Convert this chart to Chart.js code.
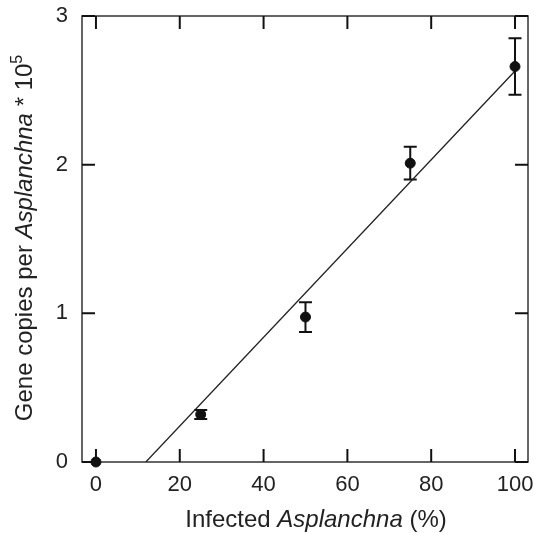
<!DOCTYPE html>
<html lang="en">
  <head>
    <meta charset="UTF-8" />
    <title>Gene copies per Asplanchna</title>
    <script src="https://cdn.jsdelivr.net/npm/chart.js"></script>
    <style>
      html, body { margin: 0; padding: 0; background: #fff; }
      #wrap { width: 534px; height: 533px; }
    </style>
  </head>
  <body>
    <div id="wrap"><canvas id="chart" width="534" height="533"></canvas></div>
    <script>
      // values
      const infected = [0, 25, 50, 75, 100];
      const geneCopies = [0, 0.32, 0.975, 2.01, 2.66];
      const geneErr = [0, 0.03, 0.1, 0.11, 0.19];
      const fitX = [11.9, 100];
      const fitY = [0, 2.63];
      const xTicks = [0, 20, 40, 60, 80, 100];
      const yTicks = [0, 1, 2, 3];

      const FONT = "'Liberation Sans', Arial, sans-serif";

      const frameAndBars = {
        id: "frameAndBars",
        beforeDatasetsDraw(chart) {
          const { ctx, chartArea: a, scales } = chart;
          const x = scales.x, y = scales.y;
          ctx.save();
          // frame
          ctx.strokeStyle = "#333";
          ctx.lineWidth = 1.5;
          ctx.strokeRect(a.left, a.top, a.right - a.left, a.bottom - a.top);
          // inward ticks on all four sides
          ctx.strokeStyle = "#111";
          ctx.lineWidth = 2;
          ctx.beginPath();
          xTicks.forEach((v) => {
            const px = x.getPixelForValue(v);
            ctx.moveTo(px, a.bottom); ctx.lineTo(px, a.bottom - 13);
            ctx.moveTo(px, a.top); ctx.lineTo(px, a.top + 13);
          });
          yTicks.forEach((v) => {
            const py = y.getPixelForValue(v);
            ctx.moveTo(a.left, py); ctx.lineTo(a.left + 13, py);
            ctx.moveTo(a.right, py); ctx.lineTo(a.right - 13, py);
          });
          ctx.stroke();
          // error bars
          ctx.strokeStyle = "#111";
          ctx.lineWidth = 2;
          infected.forEach((v, i) => {
            if (!geneErr[i]) return;
            const px = x.getPixelForValue(v);
            const top = y.getPixelForValue(geneCopies[i] + geneErr[i]);
            const bot = y.getPixelForValue(geneCopies[i] - geneErr[i]);
            ctx.beginPath();
            ctx.moveTo(px, top); ctx.lineTo(px, bot);
            ctx.moveTo(px - 6.5, top); ctx.lineTo(px + 6.5, top);
            ctx.moveTo(px - 6.5, bot); ctx.lineTo(px + 6.5, bot);
            ctx.stroke();
          });
          ctx.restore();
        },
        afterDraw(chart) {
          const { ctx } = chart;
          ctx.save();
          ctx.fillStyle = "#222";
          ctx.textBaseline = "alphabetic";
          const draw = (parts, cx, cy) => {
            let w = 0;
            parts.forEach((p) => { ctx.font = p.font; w += ctx.measureText(p.t).width; });
            let pos = cx - w / 2;
            parts.forEach((p) => {
              ctx.font = p.font;
              ctx.fillText(p.t, pos, cy - (p.up || 0));
              pos += ctx.measureText(p.t).width;
            });
          };
          // x title
          draw([
            { t: "Infected ", font: "24px " + FONT },
            { t: "Asplanchna", font: "italic 24px " + FONT },
            { t: " (%)", font: "24px " + FONT },
          ], 316, 527);
          // y title
          ctx.translate(32, 238);
          ctx.rotate(-Math.PI / 2);
          draw([
            { t: "Gene copies per ", font: "24px " + FONT },
            { t: "Asplanchna", font: "italic 24px " + FONT },
            { t: " * 10", font: "24px " + FONT },
            { t: "5", font: "16px " + FONT, up: 10 },
          ], 0, 0);
          ctx.restore();
        },
      };

      new Chart(document.getElementById("chart"), {
        type: "scatter",
        data: {
          datasets: [
            {
              data: infected.map((v, i) => ({ x: v, y: geneCopies[i] })),
              backgroundColor: "#111",
              borderColor: "#111",
              pointRadius: 5,
              pointHoverRadius: 5,
              clip: false,
            },
            {
              type: "line",
              data: fitX.map((v, i) => ({ x: v, y: fitY[i] })),
              borderColor: "#222",
              borderWidth: 1.3,
              pointRadius: 0,
              fill: false,
            },
          ],
        },
        plugins: [frameAndBars],
        options: {
          responsive: false,
          animation: false,
          events: [],
          layout: { padding: { left: 0, top: 16, right: 5, bottom: 0 } },
          plugins: { legend: { display: false }, tooltip: { enabled: false } },
          scales: {
            x: {
              type: "linear",
              min: -3.33,
              max: 103.1,
              grid: { display: false, drawTicks: false },
              border: { display: false },
              afterBuildTicks: (s) => { s.ticks = xTicks.map((v) => ({ value: v })); },
              afterFit: (s) => { s.height = 71; s.paddingLeft = 0; s.paddingRight = 0; },
              ticks: { color: "#222", padding: 10, maxRotation: 0, font: { family: FONT, size: 22 } },
            },
            y: {
              type: "linear",
              min: 0,
              max: 3,
              grid: { display: false, drawTicks: false },
              border: { display: false },
              afterBuildTicks: (s) => { s.ticks = yTicks.map((v) => ({ value: v })); },
              afterFit: (s) => { s.width = 82; s.paddingTop = 0; s.paddingBottom = 0; },
              ticks: { color: "#222", padding: 14, font: { family: FONT, size: 22 } },
            },
          },
        },
      });
    </script>
  </body>
</html>
